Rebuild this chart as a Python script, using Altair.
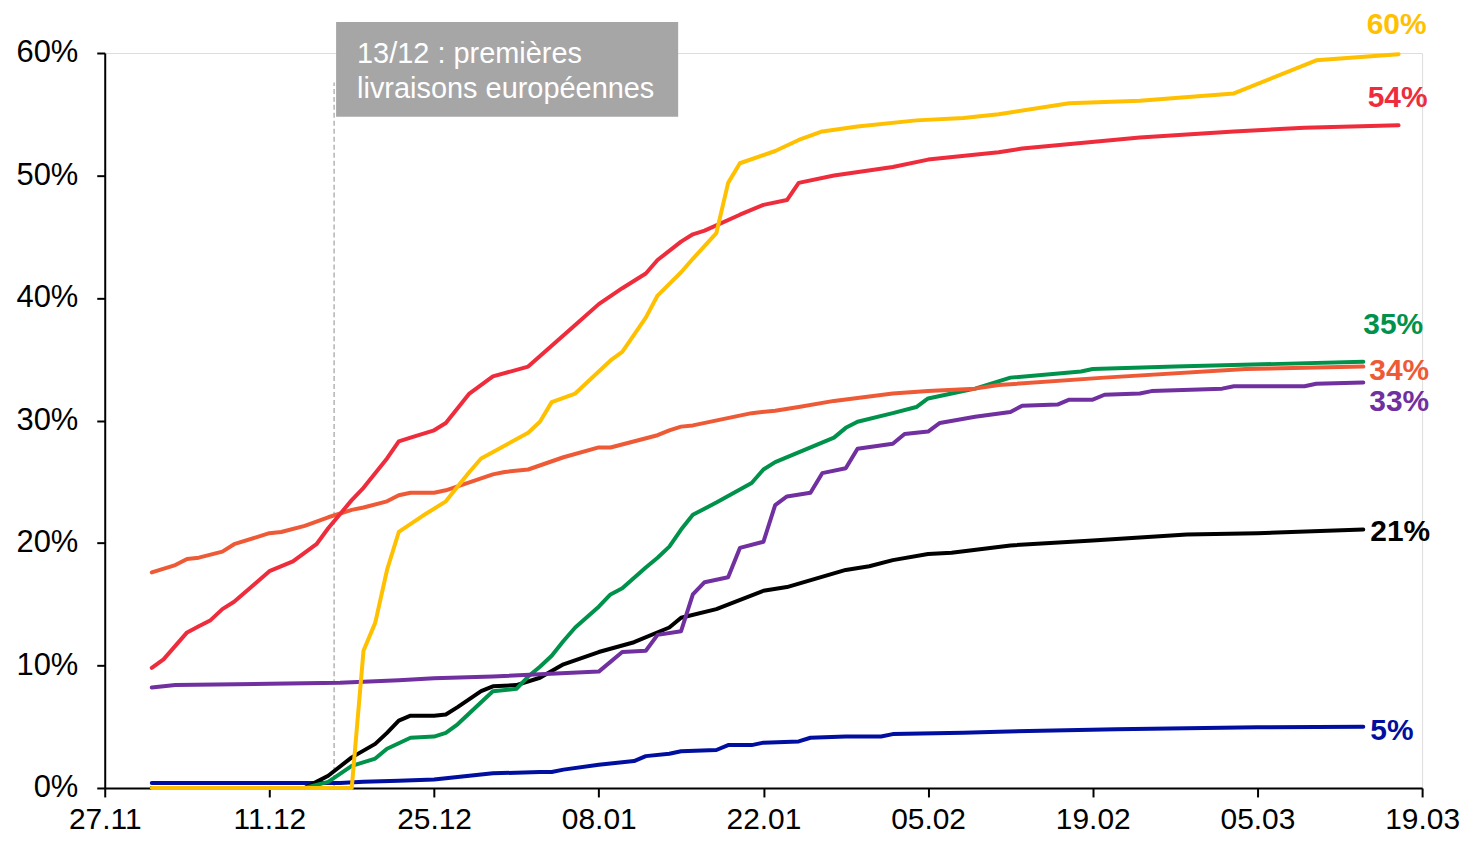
import altair as alt
import pandas as pd

# x axis: days since 27.11 (ticks every 14 days)
tick_days = [0, 14, 28, 42, 56, 70, 84, 98, 112]
tick_labels = ["27.11", "11.12", "25.12", "08.01", "22.01", "05.02", "19.02", "05.03", "19.03"]
y_ticks = [0, 10, 20, 30, 40, 50, 60]

jaune_days = [4, 21, 22, 23, 24, 25, 27, 29, 31, 32, 36, 37, 38, 40, 43, 44, 46, 47, 49, 50, 52, 53, 54, 57, 59, 61, 64, 69, 73, 76, 82, 88, 96, 103, 110]
jaune_vals = [0, 0, 11.2, 13.5, 17.8, 20.9, 22.2, 23.4, 25.8, 26.9, 29.0, 29.9, 31.5, 32.2, 34.9, 35.6, 38.4, 40.2, 42.1, 43.2, 45.3, 49.4, 51.0, 52.0, 52.9, 53.6, 54.0, 54.5, 54.7, 55.0, 55.9, 56.1, 56.7, 59.4, 59.9]

rouge_days = [4, 5, 7, 8, 9, 10, 11, 14, 16, 18, 19, 21, 22, 24, 25, 26, 28, 29, 31, 33, 36, 38, 40, 42, 44, 46, 47, 49, 50, 51, 54, 56, 58, 59, 62, 67, 70, 76, 78, 88, 96, 102, 110]
rouge_vals = [9.8, 10.5, 12.7, 13.2, 13.7, 14.6, 15.2, 17.7, 18.5, 19.9, 21.2, 23.5, 24.5, 26.9, 28.3, 28.6, 29.2, 29.8, 32.2, 33.6, 34.4, 36.1, 37.8, 39.5, 40.8, 42.0, 43.1, 44.6, 45.2, 45.5, 46.8, 47.6, 48.0, 49.4, 50.0, 50.7, 51.3, 51.9, 52.2, 53.1, 53.6, 53.9, 54.1]

orange_days = [4, 6, 7, 8, 10, 11, 13, 14, 15, 17, 19, 21, 22, 24, 25, 26, 28, 29, 33, 34, 36, 39, 42, 43, 47, 48, 49, 50, 55, 57, 59, 62, 67, 70, 74, 76, 85, 97, 107]
orange_vals = [17.6, 18.2, 18.7, 18.8, 19.3, 19.9, 20.5, 20.8, 20.9, 21.4, 22.1, 22.7, 22.9, 23.4, 23.9, 24.1, 24.1, 24.3, 25.6, 25.8, 26.0, 27.0, 27.8, 27.8, 28.8, 29.2, 29.5, 29.6, 30.6, 30.8, 31.1, 31.6, 32.2, 32.4, 32.6, 32.9, 33.5, 34.2, 34.4]

vert_days = [4, 17, 19, 21, 23, 24, 26, 28, 29, 30, 32, 33, 35, 36, 37, 38, 39, 40, 42, 43, 44, 46, 47, 48, 49, 50, 52, 55, 56, 57, 62, 63, 64, 67, 69, 70, 72, 74, 77, 83, 84, 91, 107]
vert_vals = [0, 0, 0.5, 1.8, 2.4, 3.2, 4.1, 4.2, 4.5, 5.2, 7.0, 7.9, 8.1, 9.1, 9.9, 10.8, 12.0, 13.1, 14.8, 15.8, 16.3, 18.0, 18.8, 19.7, 21.1, 22.3, 23.3, 24.9, 26.0, 26.6, 28.6, 29.4, 29.9, 30.6, 31.1, 31.8, 32.2, 32.6, 33.5, 34.0, 34.2, 34.4, 34.8]

violet_days = [4, 6, 14, 20, 25, 28, 33, 42, 44, 46, 47, 49, 50, 51, 53, 54, 56, 57, 58, 60, 61, 63, 64, 67, 68, 70, 71, 74, 77, 78, 81, 82, 84, 85, 88, 89, 95, 96, 102, 103, 107]
violet_vals = [8.2, 8.4, 8.5, 8.6, 8.8, 8.95, 9.1, 9.5, 11.1, 11.2, 12.5, 12.8, 15.8, 16.8, 17.2, 19.6, 20.1, 23.1, 23.8, 24.1, 25.7, 26.1, 27.7, 28.1, 28.9, 29.1, 29.8, 30.3, 30.7, 31.2, 31.3, 31.7, 31.7, 32.1, 32.2, 32.4, 32.6, 32.8, 32.8, 33.0, 33.1]

noir_days = [4, 17, 18, 19, 21, 23, 24, 25, 26, 28, 29, 30, 32, 33, 35, 37, 39, 42, 45, 48, 49, 52, 56, 58, 63, 65, 67, 70, 72, 77, 84, 92, 98, 107]
noir_vals = [0, 0, 0.5, 1.0, 2.5, 3.6, 4.5, 5.5, 5.9, 5.9, 6.0, 6.6, 7.9, 8.3, 8.4, 9.0, 10.1, 11.1, 11.9, 13.1, 13.9, 14.6, 16.1, 16.4, 17.8, 18.1, 18.6, 19.1, 19.2, 19.8, 20.2, 20.7, 20.8, 21.1]

bleu_days = [4, 20, 22, 25, 28, 29, 32, 33, 37, 38, 39, 42, 45, 46, 48, 49, 52, 53, 55, 56, 59, 60, 63, 66, 67, 73, 76, 86, 98, 107]
bleu_vals = [0.4, 0.4, 0.5, 0.6, 0.7, 0.8, 1.1, 1.2, 1.3, 1.3, 1.5, 1.9, 2.2, 2.6, 2.8, 3.0, 3.1, 3.5, 3.5, 3.7, 3.8, 4.1, 4.2, 4.2, 4.4, 4.5, 4.6, 4.8, 4.95, 5.0]

end_labels = {"jaune": "60%", "rouge": "54%", "vert": "35%", "orange": "34%",
              "violet": "33%", "noir": "21%", "bleu": "5%"}

annotation_lines = ["13/12 : premières", "livraisons européennes"]
annotation_day = 19.5

FONT = "Liberation Sans"

# drawing order bottom -> top; (name, days, vals, color, label dx, label dy)
series = [
    ("bleu", bleu_days, bleu_vals, "#000F9F", 7, 13),
    ("noir", noir_days, noir_vals, "#000000", 7, 12),
    ("vert", vert_days, vert_vals, "#00924A", 0, -28),
    ("violet", violet_days, violet_vals, "#7030A0", 6, 29),
    ("orange", orange_days, orange_vals, "#EE5A36", 6, 13),
    ("rouge", rouge_days, rouge_vals, "#EE2C3C", -31, -18),
    ("jaune", jaune_days, jaune_vals, "#FFC000", -32, -20),
]

x_scale = alt.Scale(domain=[0, 112], nice=False, zero=False)
y_scale = alt.Scale(domain=[0, 60], nice=False)

label_expr = "[" + ",".join("'%s'" % t for t in tick_labels) + "][round(datum.value/14)]"

x_axis = alt.Axis(values=tick_days, labelExpr=label_expr, title=None, grid=False,
                  tickSize=9, tickWidth=2, tickColor="black", domainColor="black",
                  domainWidth=2, labelPadding=8, labelFontSize=30, labelFont=FONT,
                  labelColor="black", labelFlush=False)
y_axis = alt.Axis(values=y_ticks, labelExpr="datum.value + '%'", title=None, grid=False,
                  tickSize=8, tickWidth=2, tickColor="black", domainColor="black",
                  domainWidth=2, labelPadding=19, labelFontSize=31, labelFont=FONT,
                  labelColor="black")

one = pd.DataFrame({"a": [0]})

layers = []

# dashed vertical line
rule_df = pd.DataFrame({"d": [annotation_day], "y0": [0], "y1": [57.6]})
layers.append(
    alt.Chart(rule_df).mark_rule(color="#B4B4B4", strokeWidth=1.5, strokeDash=[5, 3]).encode(
        x=alt.X("d:Q", scale=x_scale, axis=x_axis),
        y=alt.Y("y0:Q", scale=y_scale, axis=y_axis),
        y2="y1:Q",
    )
)

# annotation box + text
layers.append(
    alt.Chart(one).mark_rect(color="#A6A6A6").encode(
        x=alt.value(232), x2=alt.value(575), y=alt.value(-31), y2=alt.value(64)
    )
)
layers.append(
    alt.Chart(one).mark_text(align="left", baseline="alphabetic", font=FONT, fontSize=29,
                             color="white", lineHeight=35).encode(
        x=alt.value(253), y=alt.value(10), text=alt.value(annotation_lines)
    )
)

for name, days, vals, color, dx, dy in series:
    df = pd.DataFrame({"jour": days, "valeur": vals, "serie": name})
    layers.append(
        alt.Chart(df).mark_line(color=color, strokeWidth=4, strokeCap="round",
                                strokeJoin="round").encode(
            x=alt.X("jour:Q", scale=x_scale, axis=x_axis),
            y=alt.Y("valeur:Q", scale=y_scale, axis=y_axis),
        )
    )

for name, days, vals, color, dx, dy in series:
    ldf = pd.DataFrame({"jour": [days[-1]], "valeur": [vals[-1]], "txt": [end_labels[name]]})
    layers.append(
        alt.Chart(ldf).mark_text(align="left", baseline="alphabetic", font=FONT,
                                 fontSize=30, fontWeight="bold", color=color,
                                 dx=dx, dy=dy).encode(
            x=alt.X("jour:Q", scale=x_scale, axis=x_axis),
            y=alt.Y("valeur:Q", scale=y_scale, axis=y_axis),
            text="txt:N",
        )
    )

chart = alt.layer(*layers).properties(
    width=1321, height=737,
    autosize=alt.AutoSizeParams(type="none"),
    padding={"left": 97, "top": 44, "right": 38, "bottom": 42},
).configure_view(stroke=None).configure(background="white")

chart.save("out.html", embed_options={"renderer": "svg", "actions": False})
